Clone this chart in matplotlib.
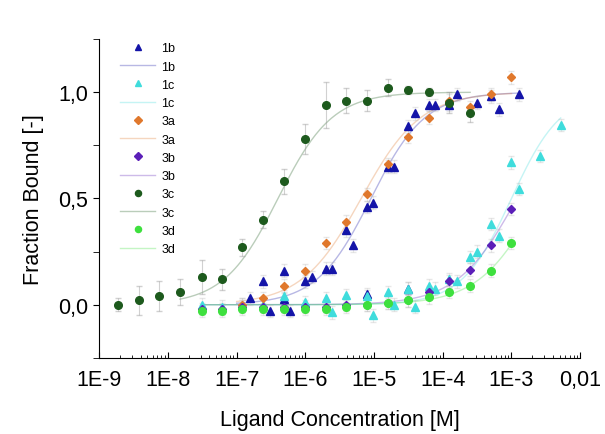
import numpy as np
import matplotlib
matplotlib.use("Agg")
import matplotlib.pyplot as plt
from matplotlib.ticker import FixedLocator, NullFormatter, LogLocator

plt.rcParams['font.family'] = ['Liberation Sans', 'DejaVu Sans']

# ---- data ----
# 3c (dark green circles)
x_3c = [1.9e-9, 3.8e-9, 7.5e-9, 1.5e-8, 3.1e-8, 6.1e-8, 1.2e-7, 2.4e-7, 4.9e-7,
        9.8e-7, 2.0e-6, 3.9e-6, 7.8e-6, 1.6e-5, 3.1e-5, 6.3e-5, 1.25e-4, 2.5e-4]
y_3c = [0.0, 0.02, 0.04, 0.06, 0.13, 0.12, 0.27, 0.40, 0.58,
        0.78, 0.94, 0.96, 0.96, 1.02, 1.01, 1.00, 0.95, 0.90]
e_3c = [0.03, 0.07, 0.07, 0.06, 0.08, 0.05, 0.04, 0.04, 0.06,
        0.07, 0.11, 0.06, 0.05, 0.04, 0.02, 0.02, 0.05, 0.04]

# 1b (blue triangles)
x_1b = [1.55e-7, 2.4e-7, 3.1e-7, 4.9e-7, 4.9e-7, 6.0e-7, 9.8e-7, 1.23e-6, 2.0e-6,
        2.45e-6, 3.9e-6, 4.9e-6, 7.8e-6, 7.8e-6, 9.8e-6, 1.6e-5, 1.95e-5, 3.1e-5,
        3.1e-5, 3.9e-5, 6.3e-5, 7.8e-5, 1.25e-4, 1.6e-4, 3.2e-4, 5.0e-4, 6.5e-4, 1.3e-3]
y_1b = [0.03, 0.11, -0.03, 0.16, 0.025, -0.03, 0.11, 0.13, 0.17,
        0.17, 0.35, 0.28, 0.46, 0.05, 0.48, 0.65, 0.65, 0.84,
        0.075, 0.90, 0.94, 0.94, 0.94, 0.99, 0.95, 0.98, 0.92, 0.99]

# 1c (cyan triangles)
x_1c = [3.1e-8, 6.1e-8, 1.2e-7, 2.4e-7, 4.9e-7, 9.8e-7, 2.0e-6, 2.45e-6, 3.9e-6,
        7.8e-6, 9.8e-6, 1.6e-5, 1.95e-5, 3.1e-5, 3.9e-5, 6.3e-5, 7.8e-5, 1.25e-4,
        1.6e-4, 2.5e-4, 3.2e-4, 5.0e-4, 6.5e-4, 1.0e-3, 1.3e-3, 2.6e-3, 5.2e-3]
y_1c = [0.0, -0.01, 0.0, 0.0, 0.04, 0.013, 0.03, -0.035, 0.045,
        0.04, -0.05, 0.06, 0.0, 0.075, -0.01, 0.09, 0.075, 0.12,
        0.11, 0.225, 0.25, 0.38, 0.325, 0.67, 0.545, 0.70, 0.845]

# 3a (orange diamonds)
x_3a = [1.2e-7, 2.4e-7, 4.9e-7, 9.8e-7, 2.0e-6, 3.9e-6, 7.8e-6, 1.6e-5, 3.1e-5,
        6.3e-5, 1.25e-4, 2.5e-4, 5.0e-4, 1.0e-3]
y_3a = [0.0, 0.03, 0.09, 0.16, 0.29, 0.39, 0.52, 0.66, 0.79,
        0.88, 0.96, 0.93, 0.99, 1.07]

# 3b (purple diamonds)
x_3b = [3.1e-8, 6.1e-8, 1.2e-7, 2.4e-7, 4.9e-7, 9.8e-7, 2.0e-6, 3.9e-6, 7.8e-6,
        1.6e-5, 3.1e-5, 6.3e-5, 1.25e-4, 2.5e-4, 5.0e-4, 1.0e-3]
y_3b = [-0.02, -0.02, -0.01, -0.01, -0.01, -0.01, -0.01, 0.0, 0.0,
        0.01, 0.02, 0.06, 0.11, 0.165, 0.28, 0.45]

# 3d (light green circles)
x_3d = [3.1e-8, 6.1e-8, 1.2e-7, 2.4e-7, 4.9e-7, 9.8e-7, 2.0e-6, 3.9e-6, 7.8e-6,
        1.6e-5, 3.1e-5, 6.3e-5, 1.25e-4, 2.5e-4, 5.0e-4, 1.0e-3]
y_3d = [-0.03, -0.03, -0.02, -0.02, -0.02, -0.02, -0.02, -0.01, 0.0,
        0.01, 0.02, 0.035, 0.06, 0.09, 0.16, 0.29]

# Hill fit parameters (Kd, n) and fit ranges
fits = {
    "1b": (9.0e-6, 1.1, 1.0e-7, 1.3e-3),
    "1c": (1.0e-3, 1.2, 3.1e-8, 5.2e-3),
    "3a": (6.5e-6, 1.0, 1.0e-7, 1.0e-3),
    "3b": (1.2e-3, 1.0, 3.1e-8, 1.0e-3),
    "3c": (4.0e-7, 1.1, 1.5e-8, 2.5e-4),
    "3d": (2.5e-3, 1.0, 3.1e-8, 1.0e-3),
}

series = [
    ("1b", x_1b, y_1b, "^", "#1414a8", 6),
    ("1c", x_1c, y_1c, "^", "#3fdcdc", 6),
    ("3a", x_3a, y_3a, "D", "#e0782c", 4.5),
    ("3b", x_3b, y_3b, "D", "#5b1fb8", 4.5),
    ("3c", x_3c, y_3c, "o", "#1d5a1d", 5.5),
    ("3d", x_3d, y_3d, "o", "#3ee03e", 5.5),
]

fig = plt.figure(figsize=(6.05, 4.35), dpi=100)
ax = fig.add_axes([0.164, 0.175, 0.795, 0.733])

handles = []
labels = []
for name, xs, ys, mk, col, ms in series:
    if name == "3c":
        ax.errorbar(xs, ys, yerr=e_3c, fmt="none", ecolor="#999999", alpha=0.45,
                    elinewidth=0.8, capsize=2, zorder=2)
    else:
        ax.errorbar(xs, ys, yerr=0.03, fmt="none", ecolor="#bbbbbb", alpha=0.35,
                    elinewidth=0.8, capsize=2, zorder=2)
    sc, = ax.plot(xs, ys, linestyle="none", marker=mk, color=col, markersize=ms,
                  markeredgecolor=col, zorder=3)
    kd, n, x0, x1 = fits[name]
    xf = np.logspace(np.log10(x0), np.log10(x1), 200)
    yf = xf**n / (kd**n + xf**n)
    ln, = ax.plot(xf, yf, color=col, alpha=0.3, linewidth=1.0, zorder=1)
    handles += [sc, ln]
    labels += [name, name]

ax.set_xscale("log")
ax.set_xlim(1e-9, 1e-2)
ax.set_ylim(-0.25, 1.25)

ax.set_xticks([1e-9, 1e-8, 1e-7, 1e-6, 1e-5, 1e-4, 1e-3, 1e-2])
ax.set_xticklabels(["1E-9", "1E-8", "1E-7", "1E-6", "1E-5", "1E-4", "1E-3", "0,01"])
ax.xaxis.set_minor_locator(LogLocator(base=10, subs=np.arange(2, 10), numticks=20))
ax.xaxis.set_minor_formatter(NullFormatter())
ax.set_yticks([0.0, 0.5, 1.0])
ax.set_yticklabels(["0,0", "0,5", "1,0"])
ax.yaxis.set_minor_locator(FixedLocator([-0.25, 0.25, 0.75, 1.25]))

ax.tick_params(axis="x", which="major", direction="in", length=4, labelsize=15.5, pad=8)
ax.tick_params(axis="x", which="minor", direction="in", length=2)
ax.tick_params(axis="y", which="both", direction="out", length=4, labelsize=15.5, pad=4)

for s in ["top", "right"]:
    ax.spines[s].set_visible(False)

ax.set_xlabel("Ligand Concentration [M]", fontsize=15.5, labelpad=14)
ax.set_ylabel("Fraction Bound [-]", fontsize=15.5, labelpad=10)

ax.legend(handles, labels, loc="upper left", bbox_to_anchor=(0.02, 1.025), frameon=False,
          fontsize=9, handlelength=2.8, labelspacing=0.5, handletextpad=0.5,
          markerscale=0.8)

fig.savefig("out.png", dpi=100)
